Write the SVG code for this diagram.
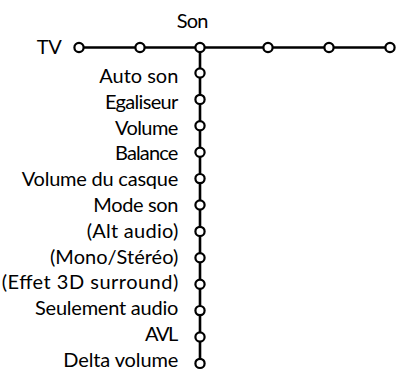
<svg xmlns="http://www.w3.org/2000/svg" width="397" height="372" viewBox="0 0 397 372">
<style>
text{font-family:"Lato","Liberation Sans",sans-serif;font-size:20px;fill:#000}
.l{text-anchor:end}
.n{fill:#fff;stroke:#000;stroke-width:2.2}
.c{stroke:#000;stroke-width:2.6;fill:none}
</style>
<rect width="397" height="372" fill="#fff"/>
<g id="connectors">
<line class="c" x1="79" y1="47.5" x2="390" y2="47.5"/>
<line class="c" x1="200" y1="47.5" x2="200" y2="363.4"/>
</g>
<g id="tv"><text x="61.7" y="54" class="l" textLength="25">TV</text><circle class="n" cx="79" cy="47.5" r="4.6"/></g>
<g id="m1"><circle class="n" cx="140" cy="47.5" r="4.6"/></g>
<g id="son"><text x="176.7" y="28" textLength="31.6">Son</text><circle class="n" cx="200" cy="47.5" r="4.6"/></g>
<g id="m3"><circle class="n" cx="268" cy="47.5" r="4.6"/></g>
<g id="m4"><circle class="n" cx="329" cy="47.5" r="4.6"/></g>
<g id="m5"><circle class="n" cx="390" cy="47.5" r="4.6"/></g>
<g id="s1"><text x="99.3" y="83" textLength="79">Auto son</text><circle class="n" cx="200" cy="73" r="4.6"/></g>
<g id="s2"><text x="105" y="108.8" textLength="73.3">Egaliseur</text><circle class="n" cx="200" cy="99.4" r="4.6"/></g>
<g id="s3"><text x="115" y="134.6" textLength="63.3">Volume</text><circle class="n" cx="200" cy="125.8" r="4.6"/></g>
<g id="s4"><text x="115" y="160.4" textLength="63.3">Balance</text><circle class="n" cx="200" cy="152.2" r="4.6"/></g>
<g id="s5"><text x="21.7" y="186.2" textLength="156.6">Volume du casque</text><circle class="n" cx="200" cy="178.6" r="4.6"/></g>
<g id="s6"><text x="93.3" y="212" textLength="85">Mode son</text><circle class="n" cx="200" cy="205" r="4.6"/></g>
<g id="s7"><text x="86.7" y="237.8" textLength="91.6">(Alt audio)</text><circle class="n" cx="200" cy="231.4" r="4.6"/></g>
<g id="s8"><text x="50" y="263.6" textLength="128.3">(Mono/Stéréo)</text><circle class="n" cx="200" cy="257.8" r="4.6"/></g>
<g id="s9"><text x="1.7" y="289.4" textLength="176.6">(Effet 3D surround)</text><circle class="n" cx="200" cy="284.2" r="4.6"/></g>
<g id="s10"><text x="35" y="315.2" textLength="143.3">Seulement audio</text><circle class="n" cx="200" cy="310.6" r="4.6"/></g>
<g id="s11"><text x="145" y="341" textLength="33.3">AVL</text><circle class="n" cx="200" cy="337" r="4.6"/></g>
<g id="s12"><text x="63.3" y="366.8" textLength="115">Delta volume</text><circle class="n" cx="200" cy="363.4" r="4.6"/></g>
</svg>
